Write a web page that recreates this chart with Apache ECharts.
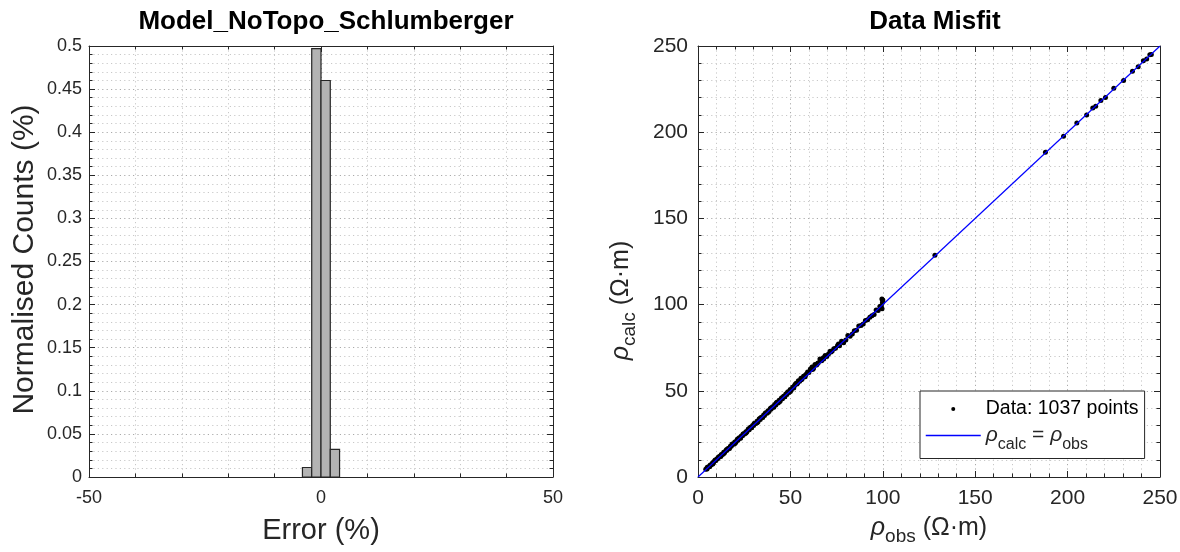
<!DOCTYPE html>
<html><head><meta charset="utf-8">
<script src="https://cdn.jsdelivr.net/npm/echarts@6/dist/echarts.min.js"></script>
<style>html,body{margin:0;padding:0;background:#fff}#c{width:1180px;height:552px}</style>
</head><body><div id="c"></div>
<script>
// ---- data ----
const histBinStart = [-4, -2, 0, 2];
const histBinEnd = [-2, 0, 2, 4];
const histCounts = [0.011, 0.497, 0.46, 0.032];
const errorRange = [-50, 50];
const countRange = [0, 0.5];
const rhoRange = [0, 250];
const fitLine = [[0, 0], [250, 250]];
// [rho_obs, rho_calc]
const misfitPoints = [
[4.2,4.5],[4.9,4.7],[5.5,5.8],[6.1,6.0],[6.6,6.9],[7.2,7.1],[7.9,8.2],[8.4,8.3],[9.0,9.4],[9.7,9.5],
[10.3,10.6],[10.8,10.7],[11.5,11.9],[12.1,11.9],[12.6,13.0],[13.3,13.1],[13.9,14.3],[14.4,14.2],[15.1,15.4],[15.7,15.5],
[16.2,16.6],[16.9,16.7],[17.5,17.9],[18.0,17.8],[18.7,19.1],[19.3,19.0],[19.9,20.3],[20.5,20.2],[21.1,21.5],[21.6,21.3],
[22.3,22.7],[22.9,22.6],[23.4,23.8],[24.1,23.9],[24.7,25.1],[25.2,24.9],[25.9,26.3],[26.5,26.2],[27.1,27.5],[27.7,27.4],
[28.3,28.8],[28.8,28.5],[29.5,29.9],[30.1,29.8],[30.6,31.1],[31.3,31.0],[31.9,32.4],[32.5,32.1],[33.1,33.6],[33.7,33.3],
[34.2,34.7],[34.9,34.6],[35.5,36.0],[36.0,35.7],[36.7,37.2],[37.3,37.0],[37.9,38.4],[38.5,38.1],[39.1,39.6],[39.6,39.4],
[40.3,40.8],[40.9,40.6],[41.5,42.0],[42.1,41.8],[42.7,43.3],[43.3,42.9],[43.9,44.5],[44.5,44.1],[45.1,45.7],[45.7,45.4],
[46.3,46.9],[46.9,46.6],[47.5,48.2],[48.1,47.8],[48.7,49.4],[49.3,49.0],[49.9,50.7],[50.5,50.4],[51.2,52.1],[51.8,51.6],
[52.5,53.6],[53.1,54.4],[53.6,53.9],[54.3,55.9],[55.0,55.6],[55.7,57.3],[56.4,57.0],[57.1,58.4],[57.8,58.7],[58.5,59.6],
[59.3,60.9],[60.0,60.6],[60.8,62.6],[61.7,63.8],[62.5,62.9],[63.3,65.2],[64.2,65.0],[65.0,66.1],[66.0,68.4],[66.9,67.5],
[67.8,69.2],[68.8,70.5],[69.7,69.9],[70.6,71.4],[71.5,73.0],[72.6,73.1],[73.5,74.4],[74.4,74.7],[75.5,76.3],[76.6,76.2],
[77.7,78.8],[78.8,77.9],[80.0,79.5],[81.1,82.1],[82.3,81.6],[83.5,83.0],[84.6,84.8],[85.8,85.1],[87.0,87.6],[88.2,87.9],
[89.4,88.7],[90.6,90.8],[91.8,91.2],[93.0,92.7],[94.1,93.6],[95.3,94.2],[96.4,96.8],[97.5,96.6],[98.4,98.9],[99.2,99.4],
[99.6,97.6],[99.8,101.2],[100.0,102.6],[99.5,103.2],
[5.0,5.6],[6.4,6.1],[8.0,7.6],[9.3,9.9],[11.0,11.5],[12.4,12.0],[14.0,13.6],[15.5,16.0],[17.0,16.6],[18.4,19.0],
[20.0,19.5],[21.4,22.0],[23.0,22.5],[24.4,25.0],[26.0,25.5],[27.4,28.0],[29.0,28.5],[30.4,31.0],[32.0,31.5],[33.4,34.0],
[35.0,34.5],[36.4,37.0],[38.0,37.5],[39.4,40.0],[41.0,40.5],[42.4,43.0],[44.0,43.5],[45.4,46.0],[47.0,46.5],[48.4,49.0],
[50.0,49.6],[52.0,52.6],[54.0,54.6],[56.0,56.4],[58.0,58.1],[62.0,62.4],[64.8,66.0],[68.0,68.5],[72.0,72.5],[76.0,77.2],
[128.2,128.6],[188.0,188.3],[197.8,197.6],[205.0,205.4],[210.3,210.0],[213.6,214.1],[215.2,215.0],[218.0,218.4],
[220.5,220.2],[225.0,225.5],[230.3,230.0],[235.1,235.4],[238.2,238.0],[241.0,241.4],[242.8,242.5],[244.5,244.9],[245.3,245.0]
];
const histBins = histBinStart.map((s, i) => [s, histBinEnd[i], histCounts[i]]);

// ---- styles ----
const FONT = '"Liberation Sans", Arial, Helvetica, sans-serif';
const AX = '#262626';
const DOT = [1.2, 3.2];
const majorGrid = {show: true, lineStyle: {color: '#aaaaaa', width: 1, type: DOT}};
const minorGrid = {show: true, lineStyle: {color: '#c8c8c8', width: 1, type: DOT}};

function axis(opts) {
  const base = {
    type: 'value',
    axisLine: {show: true, onZero: false, lineStyle: {color: AX, width: 1}},
    axisTick: {show: true, inside: true, length: 6, lineStyle: {color: AX, width: 1}},
    minorTick: {show: true, splitNumber: 5, length: 3.5, lineStyle: {color: AX, width: 1}},
    axisLabel: {show: false},
    splitLine: {show: false},
    minorSplitLine: {show: false}
  };
  return Object.assign(base, opts);
}
function labels(size, margin) {
  return {show: true, color: AX, fontFamily: FONT, fontSize: size, margin: margin,
          showMinLabel: true, showMaxLabel: true, hideOverlap: false};
}
const rich = (big, small, lh) => ({
  r: {fontSize: big, fontStyle: 'italic', fontFamily: FONT, color: AX, lineHeight: lh, verticalAlign: 'middle'},
  t: {fontSize: big, fontFamily: FONT, color: AX, lineHeight: lh, verticalAlign: 'middle'},
  s: {fontSize: small, fontFamily: FONT, color: AX, lineHeight: small * 0.8, verticalAlign: 'bottom'}
});

const option = {
  backgroundColor: '#fff',
  animation: false,
  title: [
    {text: 'Model_NoTopo_Schlumberger', left: 321, top: 4, textAlign: 'center',
     textStyle: {fontFamily: FONT, fontSize: 26, fontWeight: 'bold', color: '#000'}},
    {text: 'Data Misfit', left: 930, top: 4, textAlign: 'center',
     textStyle: {fontFamily: FONT, fontSize: 26, fontWeight: 'bold', color: '#000'}}
  ],
  grid: [
    {left: 89, top: 46, width: 464, height: 431, containLabel: false, outerBoundsMode: 'none'},
    {left: 698, top: 46, width: 462, height: 431, containLabel: false, outerBoundsMode: 'none'}
  ],
  xAxis: [
    axis({gridIndex: 0, position: 'bottom', min: errorRange[0], max: errorRange[1], interval: 50,
      axisLabel: labels(18, 12), splitLine: majorGrid, minorSplitLine: minorGrid,
      name: 'Error (%)', nameLocation: 'middle', nameGap: 39,
      nameTextStyle: {fontFamily: FONT, fontSize: 29, color: AX}}),
    axis({gridIndex: 1, position: 'bottom', min: rhoRange[0], max: rhoRange[1], interval: 50,
      axisLabel: labels(21, 11), splitLine: majorGrid, minorSplitLine: minorGrid,
      name: '{r|ρ}{s|obs}{t| (Ω·m)}', nameLocation: 'middle', nameGap: 33,
      nameTextStyle: {rich: rich(25, 19, 36)}}),
    axis({gridIndex: 0, position: 'top', min: errorRange[0], max: errorRange[1], interval: 50}),
    axis({gridIndex: 1, position: 'top', min: rhoRange[0], max: rhoRange[1], interval: 50})
  ],
  yAxis: [
    axis({gridIndex: 0, position: 'left', min: countRange[0], max: countRange[1], interval: 0.05,
      axisLabel: labels(18, 7), splitLine: majorGrid, minorSplitLine: minorGrid,
      name: 'Normalised Counts (%)', nameLocation: 'middle', nameGap: 49, nameRotate: 90,
      nameTextStyle: {fontFamily: FONT, fontSize: 30, color: AX, padding: [0, 0, 0, 4]}}),
    axis({gridIndex: 1, position: 'left', min: rhoRange[0], max: rhoRange[1], interval: 50,
      axisLabel: labels(21, 10), splitLine: majorGrid, minorSplitLine: minorGrid,
      name: '{r|ρ}{s|calc}{t| (Ω·m)}', nameLocation: 'middle', nameGap: 59, nameRotate: 90,
      nameTextStyle: {rich: rich(25, 19, 36), padding: [0, 78, 0, 0]}}),
    axis({gridIndex: 0, position: 'right', min: countRange[0], max: countRange[1], interval: 0.05}),
    axis({gridIndex: 1, position: 'right', min: rhoRange[0], max: rhoRange[1], interval: 50})
  ],
  legend: {
    orient: 'vertical', left: 920, top: 391, selectedMode: false,
    itemWidth: 55, itemHeight: 4, itemGap: 6,
    padding: [8, 6, 6, 5],
    backgroundColor: '#fff', borderColor: AX, borderWidth: 1, borderRadius: 0,
    textStyle: {fontFamily: FONT, fontSize: 19.5, color: '#000', rich: rich(21, 16, 34)},
    data: [
      {name: 'Data: 1037 points', icon: 'circle', itemStyle: {color: '#000'}},
      {name: 'fit', itemStyle: {opacity: 0, color: 'rgba(0,0,0,0)', borderWidth: 0}, lineStyle: {color: '#0000ff', width: 1.5}}
    ],
    formatter: n => n === 'fit' ? '{r|ρ}{s|calc}{t| = }{r|ρ}{s|obs}' : n
  },
  series: [
    {
      type: 'custom', name: 'hist', xAxisIndex: 0, yAxisIndex: 0,
      data: histBins,
      encode: {x: [0, 1], y: 2},
      renderItem: (params, api) => {
        const p0 = api.coord([api.value(0), api.value(2)]);
        const p1 = api.coord([api.value(1), 0]);
        return {type: 'rect', shape: {x: p0[0], y: p0[1], width: p1[0] - p0[0], height: p1[1] - p0[1]},
                style: {fill: '#b3b3b3', stroke: '#262626', lineWidth: 1.2}};
      },
      z: 3
    },
    {
      type: 'scatter', name: 'Data: 1037 points', xAxisIndex: 1, yAxisIndex: 1,
      data: misfitPoints, symbol: 'circle', symbolSize: 5,
      itemStyle: {color: '#000', opacity: 1}, z: 3
    },
    {
      type: 'line', name: 'fit', xAxisIndex: 1, yAxisIndex: 1,
      data: fitLine, symbol: 'none', showSymbol: false,
      lineStyle: {color: '#0000ff', width: 1.2}, itemStyle: {color: '#0000ff'}, z: 4
    }
  ]
};
const chart = echarts.init(document.getElementById('c'));
chart.setOption(option);
</script></body></html>
